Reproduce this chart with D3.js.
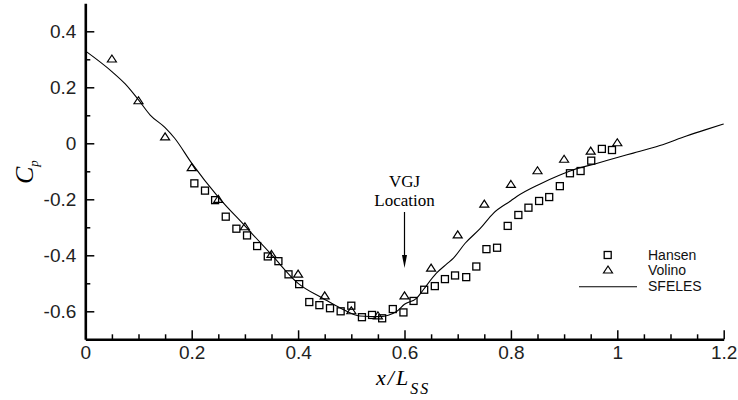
<!DOCTYPE html>
<html><head><meta charset="utf-8">
<script src="https://cdn.jsdelivr.net/npm/d3@7"></script>
<style>body{margin:0;background:#fff}svg{display:block}</style>
</head><body><svg id="c" width="738" height="400"></svg>
<script>
const hansenX=[0.205,0.225,0.244,0.264,0.284,0.304,0.323,0.343,0.363,0.382,0.402,0.421,0.44,0.46,0.48,0.5,0.52,0.539,0.558,0.578,0.598,0.617,0.637,0.657,0.676,0.695,0.716,0.735,0.754,0.774,0.794,0.814,0.833,0.853,0.872,0.892,0.911,0.931,0.951,0.971,0.99];
const hansenY=[-0.143,-0.169,-0.203,-0.262,-0.305,-0.329,-0.367,-0.404,-0.421,-0.468,-0.503,-0.567,-0.578,-0.589,-0.6,-0.58,-0.621,-0.613,-0.625,-0.592,-0.604,-0.563,-0.523,-0.51,-0.485,-0.472,-0.478,-0.44,-0.378,-0.373,-0.295,-0.256,-0.23,-0.206,-0.192,-0.153,-0.107,-0.099,-0.062,-0.02,-0.024];
const volinoX=[0.05,0.1,0.15,0.2,0.25,0.3,0.35,0.4,0.45,0.5,0.55,0.6,0.65,0.7,0.75,0.8,0.85,0.9,0.95,1.0];
const volinoY=[0.301,0.152,0.023,-0.087,-0.2,-0.298,-0.397,-0.467,-0.545,-0.598,-0.616,-0.545,-0.446,-0.327,-0.217,-0.147,-0.098,-0.057,-0.028,0.002];
const sfelesX=[0,0.05,0.075,0.1,0.122,0.15,0.168,0.2,0.25,0.3,0.35,0.4,0.447,0.48,0.516,0.554,0.585,0.6,0.623,0.635,0.66,0.68,0.692,0.714,0.742,0.767,0.8,0.811,0.855,0.89,0.917,0.961,1.005,1.03,1.08,1.13,1.165,1.2];
const sfelesY=[0.33,0.256,0.212,0.155,0.101,0.056,0.018,-0.071,-0.192,-0.295,-0.398,-0.5,-0.554,-0.589,-0.617,-0.619,-0.601,-0.575,-0.553,-0.524,-0.464,-0.43,-0.41,-0.357,-0.305,-0.25,-0.205,-0.19,-0.145,-0.115,-0.095,-0.072,-0.048,-0.035,-0.008,0.026,0.048,0.069];
const xTicks=[0,0.2,0.4,0.6,0.8,1,1.2];
const xMinor=[0.05,0.1,0.15,0.25,0.3,0.35,0.45,0.5,0.55,0.65,0.7,0.75,0.85,0.9,0.95,1.05,1.1,1.15];
const yTicks=[-0.6,-0.4,-0.2,0,0.2,0.4];
const yMinor=[-0.5,-0.3,-0.1,0.1,0.3];
const legendLabels=["Hansen","Volino","SFELES"];

const svg=d3.select("#c");
const x=d3.scaleLinear().domain([0,1.2]).range([85.3,723.7]);
const y=d3.scaleLinear().domain([-0.7,0.5]).range([339.3,3.3]);

// minor ticks
svg.append("g").attr("transform","translate(0,339.3)")
  .call(d3.axisBottom(x).tickValues(xMinor).tickSize(-5).tickSizeOuter(0).tickFormat(""))
  .call(g=>g.select(".domain").remove())
  .call(g=>g.selectAll("line").attr("stroke","#000").attr("stroke-width",1.5));
svg.append("g").attr("transform","translate(85.3,0)")
  .call(d3.axisLeft(y).tickValues(yMinor).tickSize(-5).tickSizeOuter(0).tickFormat(""))
  .call(g=>g.select(".domain").remove())
  .call(g=>g.selectAll("line").attr("stroke","#000").attr("stroke-width",1.5));

// major axes
const xa=svg.append("g").attr("transform","translate(0,339.3)")
  .call(d3.axisBottom(x).tickValues(xTicks).tickSize(-9).tickSizeOuter(0).tickPadding(6).tickFormat(d=>String(d)));
const ya=svg.append("g").attr("transform","translate(85.3,0)")
  .call(d3.axisLeft(y).tickValues(yTicks).tickSize(-9).tickSizeOuter(0).tickPadding(9).tickFormat(d=>String(d)));
[xa,ya].forEach(g=>{
  g.select(".domain").attr("stroke","#000").attr("stroke-width",2.6);
  g.selectAll(".tick line").attr("stroke","#000").attr("stroke-width",1.5);
  g.selectAll("text").attr("fill","#222").style("font-family","'Liberation Sans',Arial,sans-serif").style("font-size","19px");
});

// curve
const line=d3.line().x(d=>x(d[0])).y(d=>y(d[1])).curve(d3.curveMonotoneX);
svg.append("path").datum(sfelesX.map((v,i)=>[v,sfelesY[i]]))
  .attr("d",line).attr("fill","none").attr("stroke","#000").attr("stroke-width",1.1);

// markers
const tri="M0,-4L4.5,3L-4.5,3Z";
svg.append("g").selectAll("rect").data(hansenX.map((v,i)=>[v,hansenY[i]])).join("rect")
  .attr("x",d=>x(d[0])-3.5).attr("y",d=>y(d[1])-3.5).attr("width",7).attr("height",7)
  .attr("fill","none").attr("stroke","#000").attr("stroke-width",1.3);
svg.append("g").selectAll("path").data(volinoX.map((v,i)=>[v,volinoY[i]])).join("path")
  .attr("d",tri).attr("transform",d=>`translate(${x(d[0])},${y(d[1])})`)
  .attr("fill","none").attr("stroke","#000").attr("stroke-width",1.2);

// legend
const lf="'Liberation Sans',Arial,sans-serif";
svg.append("rect").attr("x",604.2).attr("y",251.5).attr("width",7).attr("height",7)
  .attr("fill","none").attr("stroke","#000").attr("stroke-width",1.3);
svg.append("path").attr("d",tri).attr("transform","translate(608,270)")
  .attr("fill","none").attr("stroke","#000").attr("stroke-width",1.2);
svg.append("line").attr("x1",579).attr("x2",637).attr("y1",286.7).attr("y2",286.7)
  .attr("stroke","#000").attr("stroke-width",1.1);
[260,275,291].forEach((by,i)=>{
  svg.append("text").attr("x",648).attr("y",by).text(legendLabels[i])
    .style("font-family",lf).style("font-size","14px").attr("fill","#111");
});

// VGJ annotation
const sf="'Liberation Serif','Times New Roman',serif";
const ax=x(0.6);
svg.append("text").attr("x",ax).attr("y",187).attr("text-anchor","middle").text("VGJ")
  .style("font-family",sf).style("font-size","17px");
svg.append("text").attr("x",ax).attr("y",206).attr("text-anchor","middle").text("Location")
  .style("font-family",sf).style("font-size","17px");
svg.append("line").attr("x1",ax).attr("x2",ax).attr("y1",212).attr("y2",258).attr("stroke","#000").attr("stroke-width",1.2);
svg.append("path").attr("d",`M${ax-2.5},255L${ax+2.5},255L${ax},268Z`).attr("fill","#000");

// axis titles
const xt=svg.append("text").attr("x",376).attr("y",385)
  .style("font-family",sf).style("font-style","italic").style("font-size","22px").style("letter-spacing","2px");
xt.append("tspan").text("x/L");
xt.append("tspan").attr("dy",9).style("font-size","16px").text("SS");
const yt=svg.append("text").attr("transform","translate(33,184) rotate(-90)")
  .style("font-family",sf).style("font-style","italic").style("font-size","26px");
yt.append("tspan").text("C");
yt.append("tspan").attr("dy",5).style("font-size","13px").text("p");
</script></body></html>
